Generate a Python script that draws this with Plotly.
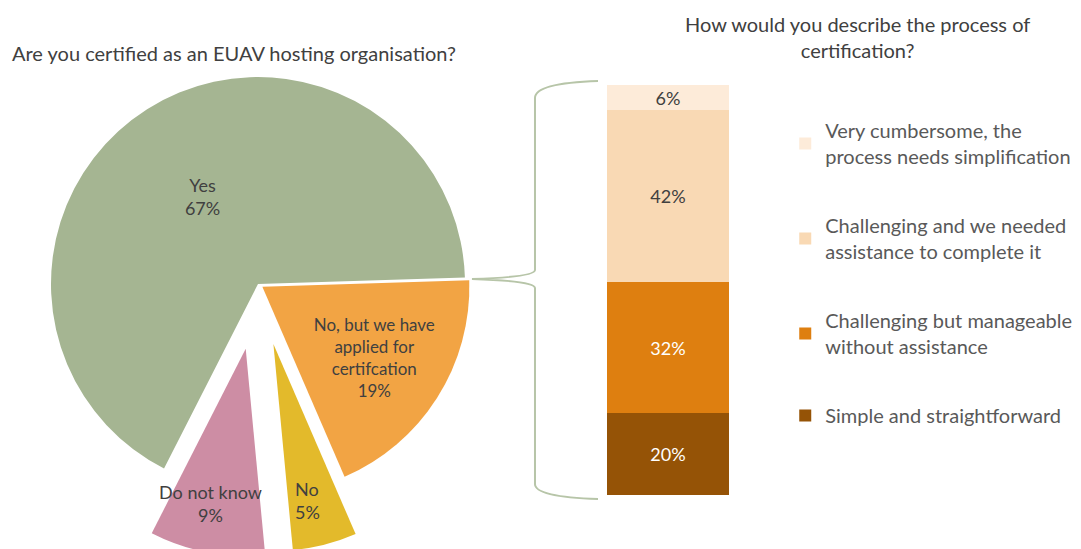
import plotly.graph_objects as go

W, H = 1081, 549
FONT = "Lato"
TEXT_GREY = "#404040"

# pie: "Are you certified as an EUAV hosting organisation?"
pie_labels = ["Yes", "No, but we have applied for certifcation", "No", "Do not know"]
pie_text = ["Yes", "No, but we have<br>applied for<br>certifcation", "No", "Do not know"]
pie_values = [67, 19, 5, 9]
pie_colors = ["#A5B592", "#F2A444", "#E3BA2B", "#CD8DA4"]

# stacked bar: "How would you describe the process of certification?"
bar_names = [
    "Simple and straightforward",
    "Challenging but manageable<br>without assistance",
    "Challenging and we needed<br>assistance to complete it",
    "Very cumbersome, the<br>process needs simplification",
]
bar_values = [20, 32, 42, 6]
bar_colors = ["#955306", "#DE7F10", "#F9D9B4", "#FDEBD9"]
bar_text_colors = ["white", "white", TEXT_GREY, TEXT_GREY]


def px_domain(cx, cy, half):
    # square pie domain (in paper units) around a pixel centre
    return dict(x=[(cx - half) / W, (cx + half) / W],
                y=[1 - (cy + half) / H, 1 - (cy - half) / H])


R = 207
# exploded slices are drawn as separate pie layers so they can sit further out
pie_layers = [
    # (visible slices, pull, centre in px)
    ([0, 1], [0, 0.025, 0, 0], (250, 276)),
    ([3], [0, 0, 0, 0], (237.7, 340.8)),
    ([2], [0, 0, 0, 0], (265.4, 336.1)),
]

fig = go.Figure()

for visible, pull, (cx, cy) in pie_layers:
    half = R * (1 + max(pull))
    main = 0 in visible
    fig.add_trace(go.Pie(
        labels=pie_labels,
        values=pie_values,
        text=[t if i in visible else "" for i, t in enumerate(pie_text)],
        texttemplate=["%{text}<br>%{percent:.0%}" if i in visible else ""
                      for i in range(len(pie_values))],
        textposition="inside" if main else "none",
        insidetextorientation="horizontal",
        textfont=dict(family=FONT, size=18, color=TEXT_GREY),
        marker=dict(colors=[c if i in visible else "rgba(0,0,0,0)"
                            for i, c in enumerate(pie_colors)],
                    line=dict(width=0)),
        sort=False,
        direction="clockwise",
        rotation=207,
        pull=pull,
        domain=px_domain(cx, cy, half),
        showlegend=False,
        hoverinfo="label+percent" if main else "skip",
    ))

# labels of the small exploded slices spill outside them, as in the original
small_labels = [(3, 202, 495, "center"), (2, 285, 492, "left")]
for i, x, y, anchor in small_labels:
    fig.add_annotation(
        text=f"{pie_text[i]}<br>{pie_values[i]}%", align=anchor,
        xref="paper", yref="paper", x=x / W, y=1 - y / H,
        xanchor=anchor, yanchor="middle", showarrow=False,
        font=dict(family=FONT, size=18, color=TEXT_GREY),
    )

for rank, (name, val, col, tcol) in enumerate(
        zip(bar_names, bar_values, bar_colors, bar_text_colors)):
    fig.add_trace(go.Bar(
        x=[0], y=[val], name=name, width=1,
        marker=dict(color=col, line=dict(width=0)),
        text=[f"{val}%"], textposition="inside", insidetextanchor="middle",
        constraintext="none",
        textfont=dict(family=FONT, size=18, color=tcol),
        legendgroup=name, legendrank=len(bar_values) - rank,
    ))


def pp(x, y):
    return f"{x / W:.4f} {1 - y / H:.4f}"


# brace linking the "Yes" slice to the bar
brace = (f"M {pp(590, 73)} Q {pp(527, 75)} {pp(527, 90)} L {pp(527, 262)} "
         f"Q {pp(527, 269)} {pp(464, 271)} Q {pp(527, 273)} {pp(527, 280)} "
         f"L {pp(527, 476)} Q {pp(527, 489)} {pp(590, 491)}")
fig.add_shape(type="path", xref="paper", yref="paper", path=brace,
              line=dict(color="#B7C5A8", width=2))

fig.add_annotation(
    text="Are you certified as an EUAV hosting organisation?",
    xref="paper", yref="paper", x=2 / W, y=1 - 45 / H, xanchor="left", yanchor="middle",
    showarrow=False, font=dict(family=FONT, size=20, color=TEXT_GREY),
)
fig.add_annotation(
    text="How would you describe the process of<br>certification?",
    xref="paper", yref="paper", x=849 / W, y=1 - 29.5 / H, xanchor="center", yanchor="middle",
    showarrow=False, font=dict(family=FONT, size=20, color=TEXT_GREY),
)

fig.update_layout(
    width=W, height=H,
    margin=dict(l=0, r=0, t=0, b=0),
    paper_bgcolor="white", plot_bgcolor="white",
    font=dict(family=FONT, size=18, color=TEXT_GREY),
    barmode="stack",
    bargap=0,
    xaxis=dict(domain=[599 / W, 721 / W], range=[-0.5, 0.5], visible=False, fixedrange=True),
    yaxis=dict(domain=[1 - 487 / H, 1 - 77 / H], range=[0, 100], visible=False, fixedrange=True),
    legend=dict(
        x=0.719, y=1 - 103 / H, xanchor="left", yanchor="top",
        traceorder="grouped", tracegroupgap=40,
        font=dict(family=FONT, size=20, color="#595959"),
        itemwidth=30,
    ),
)

fig.write_html("out.html")
